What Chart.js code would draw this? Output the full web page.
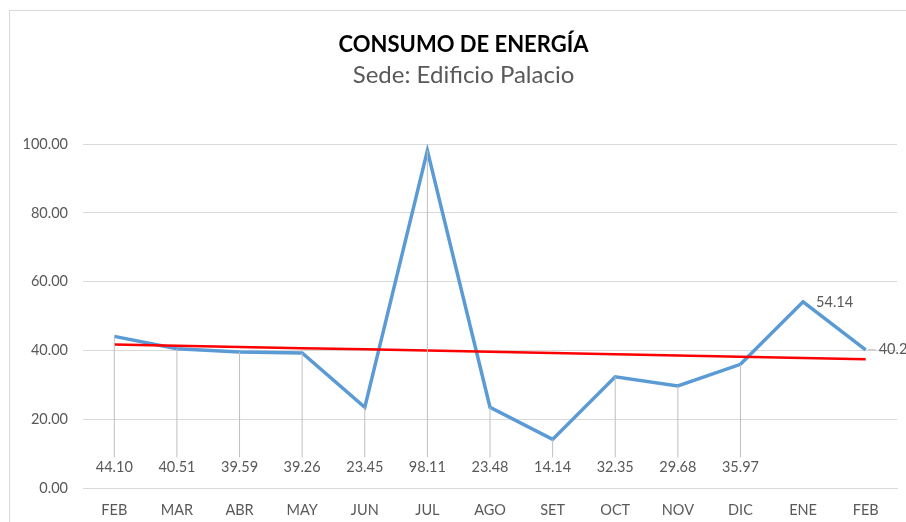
<!DOCTYPE html>
<html>
<head>
<meta charset="utf-8">
<script src="https://cdn.jsdelivr.net/npm/chart.js@4"></script>
<style>
  html, body { margin: 0; padding: 0; background: #fff; overflow: hidden; }
  #marco {
    position: absolute; left: 9px; top: 10px;
    width: 908px; height: 530px;
    border: 1px solid #d9d9d9;
  }
</style>
</head>
<body>
<div id="marco"><canvas id="grafico-energia" width="908" height="530"></canvas></div>
<script>
// Datos del gráfico
const meses = ["FEB", "MAR", "ABR", "MAY", "JUN", "JUL", "AGO", "SET", "OCT", "NOV", "DIC", "ENE", "FEB"];
const consumo = [44.10, 40.51, 39.59, 39.26, 23.45, 98.11, 23.48, 14.14, 32.35, 29.68, 35.97, 54.14, 40.2];
const etiquetas = ["44.10", "40.51", "39.59", "39.26", "23.45", "98.11", "23.48", "14.14", "32.35", "29.68", "35.97", "54.14", "40.2"];
const ticksY = [0, 20, 40, 60, 80, 100];

// Línea de tendencia lineal (mínimos cuadrados, como en Excel)
function tendenciaLineal(valores) {
  const n = valores.length;
  let sx = 0, sy = 0, sxy = 0, sxx = 0;
  valores.forEach((v, i) => { sx += i; sy += v; sxy += i * v; sxx += i * i; });
  const m = (n * sxy - sx * sy) / (n * sxx - sx * sx);
  const b = (sy - m * sx) / n;
  return valores.map((_, i) => b + m * i);
}
const tendencia = tendenciaLineal(consumo);

const GRIS_TEXTO = '#595959';
const FUENTE = 'Lato, "Open Sans", sans-serif';

// Centrar el título igual que en Excel (sobre todo el marco)
const centrarTitulo = {
  id: 'centrarTitulo',
  afterLayout(chart) {
    chart.boxes.forEach(b => {
      if (b.options && b.options.text !== undefined && b.position === 'top') b.left += 20;
    });
  }
};

// Etiquetas de datos con líneas guía
const etiquetasDatos = {
  id: 'etiquetasDatos',
  afterDatasetsDraw(chart) {
    const ctx = chart.ctx;
    const meta = chart.getDatasetMeta(1);
    const y = chart.scales.y;
    ctx.save();
    ctx.font = '14.5px ' + FUENTE;
    ctx.fillStyle = GRIS_TEXTO;
    ctx.strokeStyle = '#bfbfbf';
    ctx.lineWidth = 1;
    meta.data.forEach((p, i) => {
      if (i < 11) {
        const yTexto = y.getPixelForValue(6);
        ctx.beginPath();
        ctx.moveTo(p.x, p.y);
        ctx.lineTo(p.x, yTexto - 10);
        ctx.stroke();
        ctx.textAlign = 'center';
        ctx.textBaseline = 'middle';
        ctx.fillText(etiquetas[i], p.x, yTexto);
      } else {
        if (i === meta.data.length - 1) {
          ctx.beginPath();
          ctx.moveTo(p.x + 2, p.y);
          ctx.lineTo(p.x + 10, p.y);
          ctx.stroke();
        }
        ctx.textAlign = 'left';
        ctx.textBaseline = 'middle';
        ctx.fillText(etiquetas[i], p.x + 13, p.y);
      }
    });
    ctx.restore();
  }
};

const ctx = document.getElementById('grafico-energia').getContext('2d');
new Chart(ctx, {
  type: 'line',
  data: {
    labels: meses,
    datasets: [
      {
        label: 'Tendencia',
        data: tendencia,
        borderColor: '#ff0000',
        borderWidth: 2.5,
        pointRadius: 0,
        tension: 0,
        order: 1
      },
      {
        label: 'Consumo',
        data: consumo,
        borderColor: '#5b9bd5',
        borderWidth: 3.5,
        pointRadius: 0,
        tension: 0,
        order: 2
      }
    ]
  },
  options: {
    responsive: false,
    animation: false,
    layout: { padding: { left: 0, right: 21, top: 0, bottom: 0 } },
    plugins: {
      legend: { display: false },
      tooltip: { enabled: false },
      title: {
        display: true,
        text: 'CONSUMO DE ENERGÍA',
        color: '#000',
        font: { family: FUENTE, size: 22, weight: 'bold', lineHeight: 1.2 },
        padding: { top: 21, bottom: 0 }
      },
      subtitle: {
        display: true,
        text: 'Sede: Edificio Palacio',
        color: GRIS_TEXTO,
        font: { family: FUENTE, size: 24, lineHeight: 1.2 },
        padding: { top: 2, bottom: 55 }
      }
    },
    scales: {
      x: {
        offset: true,
        grid: { display: false },
        border: { color: '#d9d9d9' },
        ticks: { color: GRIS_TEXTO, font: { family: FUENTE, size: 14.5 }, padding: 6 },
        afterFit(scale) { scale.height = 53; }
      },
      y: {
        min: 0,
        max: 100,
        afterBuildTicks(scale) { scale.ticks = ticksY.map(v => ({ value: v })); },
        grid: { color: '#d9d9d9', drawTicks: false },
        border: { display: false },
        ticks: {
          color: GRIS_TEXTO,
          font: { family: FUENTE, size: 14.5 },
          padding: 15,
          callback: v => Number(v).toFixed(2)
        },
        afterFit(scale) { scale.width = 73; }
      }
    }
  },
  plugins: [centrarTitulo, etiquetasDatos]
});
</script>
</body>
</html>
